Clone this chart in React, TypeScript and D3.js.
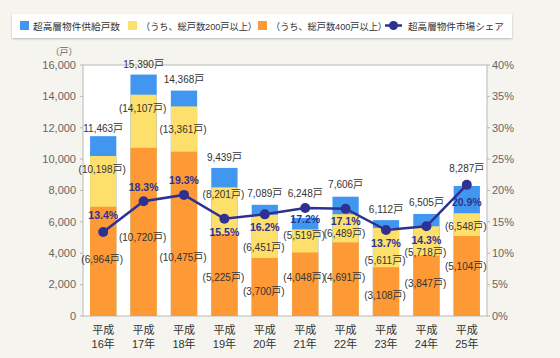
import React, { useRef, useEffect } from 'react';
import * as d3 from 'd3';

// 平成16年〜25年
const years = ['16年', '17年', '18年', '19年', '20年', '21年', '22年', '23年', '24年', '25年'];
const totalUnits = [11463, 15390, 14368, 9439, 7089, 6248, 7606, 6112, 6505, 8287];
const units200 = [10198, 14107, 13361, 8201, 6451, 5519, 6489, 5611, 5718, 6548];
const units400 = [6964, 10720, 10475, 5225, 3700, 4048, 4691, 3108, 3847, 5104];
const marketShare = [13.4, 18.3, 19.3, 15.5, 16.2, 17.2, 17.1, 13.7, 14.3, 20.9];

const leftTicks = [0, 2000, 4000, 6000, 8000, 10000, 12000, 14000, 16000];
const rightTicks = [0, 5, 10, 15, 20, 25, 30, 35, 40];

// label nudges (px) so labels don't collide, like the original
const totalDy = [-8, -10, -11, -10, -11, -24, -12, -11, -11, -17];
const u200Dy = [13, 14, 23, 7, 33, 6, 19, 33, 26, 13];
const u400Dy = [53, 90, 106, 43, 34, 25, 35, 28, 28, 31];
const shareDy = [-17, -14, -15, 14, 13, 11, 13, 13, 14, 17];

const W = 560;
const H = 358;
const FONT = '"Liberation Sans", Arial, "Noto Sans CJK JP", sans-serif';
const BLUE = '#4197f0';
const YELLOW = '#fde06b';
const ORANGE = '#fd9a36';
const NAVY = '#2e3192';

const fmt = d3.format(',');

const App: React.FC = () => {
    const ref = useRef<SVGSVGElement | null>(null);

    useEffect(() => {
        const svg = d3.select(ref.current);
        svg.selectAll('*').remove();

        const m = { left: 83, right: 487, top: 65, bottom: 316 };

        svg.append('rect').attr('width', W).attr('height', H).attr('fill', '#f5f4ee');

        // legend
        const defs = svg.append('defs');
        const f = defs.append('filter').attr('id', 'sh').attr('x', '-5%').attr('y', '-20%').attr('width', '110%').attr('height', '160%');
        f.append('feDropShadow').attr('dx', 0).attr('dy', 1).attr('stdDeviation', 1).attr('flood-color', '#000').attr('flood-opacity', 0.25);
        const lg = svg.append('g');
        lg.append('rect').attr('x', 12).attr('y', 14).attr('width', 500).attr('height', 24).attr('fill', '#fff').attr('filter', 'url(#sh)');
        const legendItems = [
            { x: 20, color: BLUE, text: '超高層物件供給戸数', w: 87 },
            { x: 128, color: YELLOW, text: '（うち、総戸数200戸以上）', w: 116 },
            { x: 258, color: ORANGE, text: '（うち、総戸数400戸以上）', w: 116 },
        ];
        legendItems.forEach((it) => {
            lg.append('rect').attr('x', it.x).attr('y', 21).attr('width', 9).attr('height', 9).attr('fill', it.color);
            lg.append('text').attr('x', it.x + 13).attr('y', 29.5).attr('font-size', 9.6).attr('fill', '#333')
                .attr('font-family', FONT).attr('textLength', it.w).attr('lengthAdjust', 'spacingAndGlyphs').text(it.text);
        });
        lg.append('line').attr('x1', 385).attr('x2', 402).attr('y1', 25.5).attr('y2', 25.5).attr('stroke', NAVY).attr('stroke-width', 2.5);
        lg.append('circle').attr('cx', 393.5).attr('cy', 25.5).attr('r', 4.5).attr('fill', NAVY);
        lg.append('text').attr('x', 408).attr('y', 29.5).attr('font-size', 9.6).attr('fill', '#333')
            .attr('font-family', FONT).text('超高層物件市場シェア');

        // scales
        const x = d3.scaleBand<string>().domain(years).range([m.left, m.right]).paddingInner(0.35).paddingOuter(0.175);
        const y = d3.scaleLinear().domain([0, 16000]).range([m.bottom, m.top]);
        const y2 = d3.scaleLinear().domain([0, 40]).range([m.bottom, m.top]);
        const cx = (i: number) => (x(years[i]) as number) + x.bandwidth() / 2;

        // plot frame
        svg.append('rect').attr('x', m.left).attr('y', m.top).attr('width', m.right - m.left).attr('height', m.bottom - m.top)
            .attr('fill', '#fff').attr('stroke', '#b8b8b8').attr('stroke-width', 1);

        // left axis
        const la = svg.append('g').attr('font-family', FONT);
        la.selectAll('line').data(leftTicks).enter().append('line')
            .attr('x1', m.left - 3).attr('x2', m.left).attr('y1', (d) => y(d)).attr('y2', (d) => y(d)).attr('stroke', '#b8b8b8');
        la.selectAll('text').data(leftTicks).enter().append('text')
            .attr('x', m.left - 7).attr('y', (d) => y(d)).attr('dy', '0.35em').attr('text-anchor', 'end')
            .attr('font-size', 11).attr('fill', '#666').text((d) => fmt(d));
        la.append('text').attr('x', 64).attr('y', 52).attr('dy', '0.35em').attr('text-anchor', 'middle')
            .attr('font-size', 9).attr('fill', '#666').text('（戸）');

        // right axis
        const ra = svg.append('g').attr('font-family', FONT);
        ra.selectAll('line').data(rightTicks).enter().append('line')
            .attr('x1', m.right).attr('x2', m.right + 3).attr('y1', (d) => y2(d)).attr('y2', (d) => y2(d)).attr('stroke', '#b8b8b8');
        ra.selectAll('text').data(rightTicks).enter().append('text')
            .attr('x', m.right + 5).attr('y', (d) => y2(d)).attr('dy', '0.35em').attr('text-anchor', 'start')
            .attr('font-size', 11).attr('fill', '#666').text((d) => `${d}%`);

        // bars
        const bars = svg.append('g');
        const stack = [
            { vals: totalUnits, color: BLUE },
            { vals: units200, color: YELLOW },
            { vals: units400, color: ORANGE },
        ];
        stack.forEach((s) => {
            bars.selectAll(null).data(s.vals).enter().append('rect')
                .attr('x', (_d, i) => x(years[i]) as number)
                .attr('width', x.bandwidth())
                .attr('y', (d) => y(d))
                .attr('height', (d) => m.bottom - y(d))
                .attr('fill', s.color);
        });

        // x labels
        const xa = svg.append('g').attr('font-family', FONT).attr('font-size', 11).attr('fill', '#333').attr('text-anchor', 'middle');
        years.forEach((yr, i) => {
            xa.append('text').attr('x', cx(i)).attr('y', 330).attr('dy', '0.35em').text('平成');
            xa.append('text').attr('x', cx(i)).attr('y', 344).attr('dy', '0.35em').text(yr);
        });

        // value labels
        const vl = svg.append('g').attr('font-family', FONT).attr('font-size', 10).attr('fill', '#333').attr('text-anchor', 'middle');
        vl.selectAll('.tot').data(totalUnits).enter().append('text')
            .attr('x', (_d, i) => cx(i)).attr('y', (d, i) => y(d) + totalDy[i]).attr('dy', '0.35em')
            .text((d) => `${fmt(d)}戸`);
        vl.selectAll('.u200').data(units200).enter().append('text')
            .attr('x', (_d, i) => cx(i) - 1).attr('y', (d, i) => y(d) + u200Dy[i]).attr('dy', '0.35em')
            .text((d) => `(${fmt(d)}戸)`);
        vl.selectAll('.u400').data(units400).enter().append('text')
            .attr('x', (_d, i) => cx(i) - 1).attr('y', (d, i) => y(d) + u400Dy[i]).attr('dy', '0.35em')
            .text((d) => `(${fmt(d)}戸)`);

        // share line
        const line = d3.line<number>().x((_d, i) => cx(i)).y((d) => y2(d));
        svg.append('path').datum(marketShare).attr('d', line).attr('fill', 'none').attr('stroke', NAVY).attr('stroke-width', 2.5);
        svg.append('g').selectAll('circle').data(marketShare).enter().append('circle')
            .attr('cx', (_d, i) => cx(i)).attr('cy', (d) => y2(d)).attr('r', 5).attr('fill', NAVY);
        svg.append('g').attr('font-family', FONT).attr('font-size', 10.5).attr('font-weight', 'bold').attr('fill', NAVY)
            .attr('text-anchor', 'middle')
            .selectAll('text').data(marketShare).enter().append('text')
            .attr('x', (_d, i) => cx(i)).attr('y', (d, i) => y2(d) + shareDy[i]).attr('dy', '0.35em')
            .text((d) => `${d.toFixed(1)}%`);
    }, []);

    return <svg ref={ref} width={W} height={H} style={{ position: 'absolute', left: 0, top: 0 }} />;
};

export default App;
